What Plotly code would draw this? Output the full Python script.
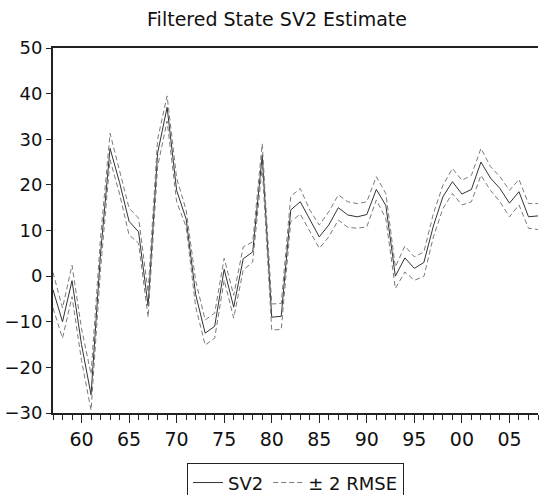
import plotly.graph_objects as go

years = list(range(1957, 2009))
sv2 = [-3, -10, -1, -15, -26, 5, 28, 20.5, 12, 9.7, -6.5, 27,
       37, 18.8, 12.5, -4, -12.5, -11, 1.5, -6.8, 3.8, 5.3, 26.5, -9, -8.8,
       14.5, 16.3, 12.3, 8.6, 11.2, 15, 13.4, 13, 13.5, 19, 15.5, 0, 4,
       1.7, 3, 11, 17.4, 20.7, 18, 19, 25, 21.5, 19.2, 16, 18.5, 13, 13.2]
upper = [0.8, -7, 2.4, -11.5, -21.5, 8.5, 31.3, 23.2, 14.9, 12.7, -3.5, 30,
         39.5, 21.5, 14.5, -1, -9.6, -8.1, 3.9, -4.2, 6.4, 7.5, 29, -6.1, -6,
         17.5, 19.2, 14.5, 11.2, 14.1, 17.8, 16.3, 15.9, 16.3, 21.8, 18.1, 2, 6.6,
         4.2, 5.3, 13.7, 19.9, 23.6, 21, 22.1, 28, 24, 21.8, 18.8, 21.2, 15.9, 15.9]
lower = [-7, -13.6, -4.5, -18.5, -29.4, 1.5, 25.5, 18, 9, 7.2, -9, 24,
         34, 16.3, 10.8, -6.7, -15.1, -13.6, -0.9, -9.2, 1.3, 3.1, 24, -11.8, -11.7,
         11.9, 13.6, 9.7, 6.1, 8.6, 12.3, 10.7, 10.5, 10.8, 16.7, 12.6, -2.7, 0.9,
         -0.9, -0.1, 8.6, 14.8, 18.1, 15.6, 16.3, 22.1, 18.8, 16.3, 13, 15.6, 10.5, 10.2]

tick_years = [1960, 1965, 1970, 1975, 1980, 1985, 1990, 1995, 2000, 2005]
tick_text = ["60", "65", "70", "75", "80", "85", "90", "95", "00", "05"]
y_ticks = [-30, -20, -10, 0, 10, 20, 30, 40, 50]

font = "DejaVu Sans, Liberation Sans, Arial, sans-serif"

fig = go.Figure()
fig.add_trace(go.Scatter(x=years, y=sv2, mode="lines", name="SV2",
                         line=dict(color="#333333", width=1)))
fig.add_trace(go.Scatter(x=years, y=upper, mode="lines", name="± 2 RMSE",
                         line=dict(color="#7a7a7a", width=1, dash="5px,3px")))
fig.add_trace(go.Scatter(x=years, y=lower, mode="lines", name="± 2 RMSE",
                         showlegend=False,
                         line=dict(color="#7a7a7a", width=1, dash="5px,3px")))

fig.update_layout(
    width=540, height=495,
    margin=dict(l=53, r=2, t=48, b=82),
    paper_bgcolor="white", plot_bgcolor="white",
    font=dict(family=font, size=17, color="#111111"),
    title=dict(text="Filtered State SV2 Estimate", x=0.513, xanchor="center",
               y=0.96, yanchor="middle", font=dict(size=19, color="#111111")),
    showlegend=True,
    legend=dict(orientation="h", x=0.5, xanchor="center",
                yref="container", y=0.064, yanchor="top",
                bordercolor="#222222", borderwidth=1, font=dict(size=18),
                tracegroupgap=0, itemwidth=30),
    xaxis=dict(range=[1957, 2008], showgrid=False, zeroline=False, automargin=False,
               showline=True, linecolor="#222222", linewidth=2, mirror=True,
               ticks="outside", ticklen=8, tickwidth=1, tickcolor="#222222",
               tickvals=tick_years, ticktext=tick_text,
               minor=dict(dtick=1, tick0=1957, ticks="outside", ticklen=5,
                          tickcolor="#222222", showgrid=False),
               tickfont=dict(size=19)),
    yaxis=dict(range=[-30, 50], showgrid=False, zeroline=False, automargin=False,
               showline=True, linecolor="#222222", linewidth=2, mirror=False,
               ticks="outside", ticklen=5, tickcolor="#222222",
               tickvals=y_ticks, tickfont=dict(size=18)),
)

fig.write_html(
    "out.html",
    config={"displayModeBar": False},
    post_script="document.body.style.margin='0';document.body.style.overflow='hidden';",
)
